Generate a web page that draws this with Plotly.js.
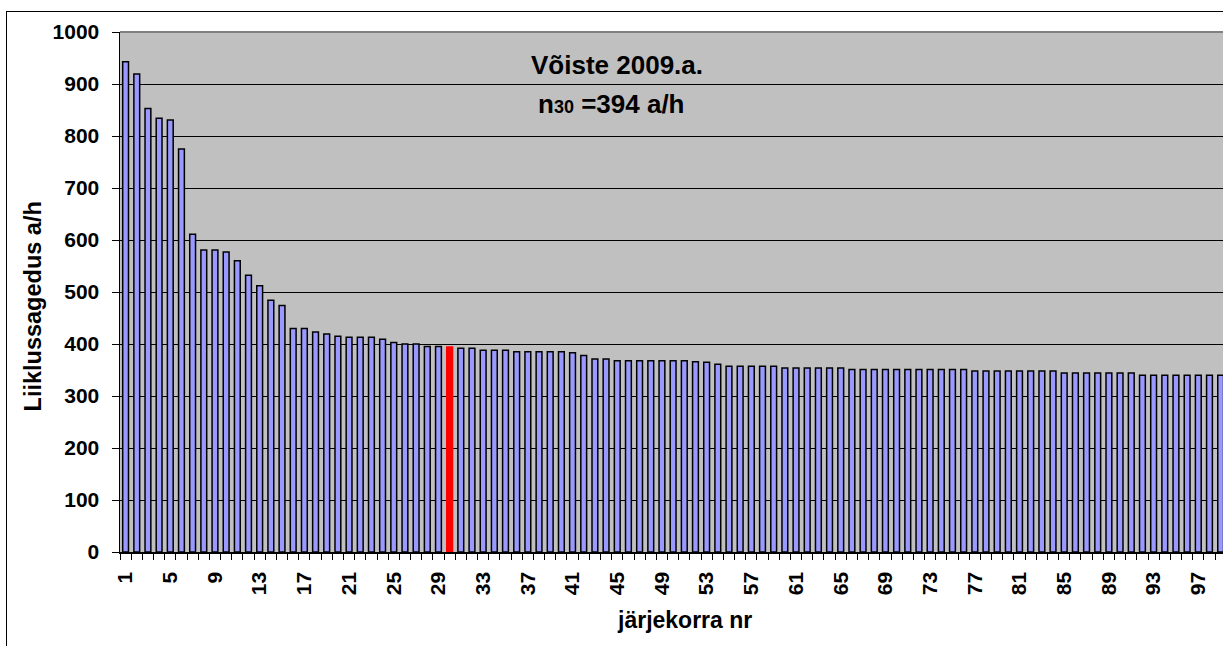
<!DOCTYPE html>
<html>
<head>
<meta charset="utf-8">
<script src="https://cdn.plot.ly/plotly-3.0.1.min.js"></script>
<style>
html,body{margin:0;padding:0;background:#fff;overflow:hidden;}
#wrap{position:relative;width:1223px;height:646px;}
#chart{width:1223px;height:646px;}
#frame{position:absolute;left:6px;top:11px;width:1400px;height:800px;border:1.5px solid #000;pointer-events:none;}
</style>
</head>
<body>
<div id="wrap"><div id="chart"></div><div id="frame"></div></div>
<script>
const ranks = [1,2,3,4,5,6,7,8,9,10,11,12,13,14,15,16,17,18,19,20,21,22,23,24,25,26,27,28,29,30,31,32,33,34,35,36,37,38,39,40,41,42,43,44,45,46,47,48,49,50,51,52,53,54,55,56,57,58,59,60,61,62,63,64,65,66,67,68,69,70,71,72,73,74,75,76,77,78,79,80,81,82,83,84,85,86,87,88,89,90,91,92,93,94,95,96,97,98,99];
const volumes = [943,919,853,834,831,775,611,581,581,577,560,532,512,484,474,430,430,423,419,415,413,413,413,409,403,400,400,395,395,394,392,392,388,388,388,385,385,385,385,385,383,378,371,371,368,368,368,368,368,368,368,366,365,361,357,357,357,357,357,354,354,354,354,354,354,351,351,351,351,351,351,351,351,351,351,351,348,348,348,348,348,348,348,348,344,344,344,344,344,344,344,340,340,340,340,340,340,340,340];
const highlightRank = 30;
const xTickVals = [1,5,9,13,17,21,25,29,33,37,41,45,49,53,57,61,65,69,73,77,81,85,89,93,97];
const xTickText = ['1','5','9','13','17','21','25','29','33','37','41','45','49','53','57','61','65','69','73','77','81','85','89','93','97'];
const yTickVals = [0,100,200,300,400,500,600,700,800,900,1000];
const titleLine1 = 'Võiste 2009.a.';
const titleLine2 = 'n<span style="font-size:18px">30</span> =394 a/h';
const xTitle = 'järjekorra nr';
const yTitle = 'Liiklussagedus a/h';

const fillColors = ranks.map(r => r === highlightRank ? '#FF0000' : '#9999FF');
const lineColors = ranks.map(r => r === highlightRank ? '#FF0000' : '#000000');

const F = 'Liberation Sans, Arial, sans-serif';

const trace = {
  type: 'bar',
  x: ranks,
  y: volumes,
  width: 0.52,
  marker: {color: fillColors, line: {color: lineColors, width: 1.5}},
  hoverinfo: 'x+y'
};

const layout = {
  width: 1223, height: 646,
  margin: {l: 120, r: 0, t: 32, b: 94, pad: 0},
  paper_bgcolor: '#FFFFFF',
  plot_bgcolor: '#C0C0C0',
  showlegend: false,
  bargap: 0,
  font: {family: F, color: '#000'},
  xaxis: {
    type: 'linear',
    range: [0.5, 99.21],
    tickmode: 'array', tickvals: xTickVals, ticktext: xTickText,
    tickangle: -90,
    ticks: '',
    ticklabelstandoff: 10,
    tickfont: {family: F, size: 21, color: '#000', weight: 'bold'},
    showgrid: false, zeroline: false,
    showline: true, linecolor: '#000', linewidth: 1.5,
    minor: {tickmode: 'linear', tick0: 0.5, dtick: 1, ticks: 'outside', ticklen: 6, tickcolor: '#000', tickwidth: 1, showgrid: false},
    fixedrange: true
  },
  yaxis: {
    range: [0, 1000],
    tickmode: 'array', tickvals: yTickVals,
    ticks: 'outside', ticklen: 7, tickcolor: '#000', tickwidth: 1,
    ticklabelstandoff: 8,
    tickfont: {family: F, size: 21, color: '#000', weight: 'bold'},
    showgrid: true, gridcolor: '#000', gridwidth: 1,
    zeroline: false,
    showline: true, linecolor: '#000', linewidth: 1.5,
    fixedrange: true
  },
  shapes: [
    {type: 'line', xref: 'paper', yref: 'paper', x0: 0, x1: 1, y0: 1, y1: 1, line: {color: '#808080', width: 2}}
  ],
  annotations: [
    {text: titleLine1, xref: 'paper', yref: 'paper', x: 0.4506, y: 0.937, xanchor: 'center', yanchor: 'middle', showarrow: false, font: {family: F, size: 26, weight: 'bold', color: '#000'}},
    {text: titleLine2, xref: 'paper', yref: 'paper', x: 0.4452, y: 0.8615, xanchor: 'center', yanchor: 'middle', showarrow: false, font: {family: F, size: 26, weight: 'bold', color: '#000'}},
    {text: xTitle, xref: 'paper', yref: 'paper', x: 0.512, y: -0.131, xanchor: 'center', yanchor: 'middle', showarrow: false, font: {family: F, size: 23, weight: 'bold', color: '#000'}},
    {text: yTitle, xref: 'paper', yref: 'paper', x: -0.0785, y: 0.473, xanchor: 'center', yanchor: 'middle', textangle: -90, showarrow: false, font: {family: F, size: 23.5, weight: 'bold', color: '#000'}}
  ]
};

Plotly.newPlot('chart', [trace], layout, {displayModeBar: false, staticPlot: true});
</script>
</body>
</html>
